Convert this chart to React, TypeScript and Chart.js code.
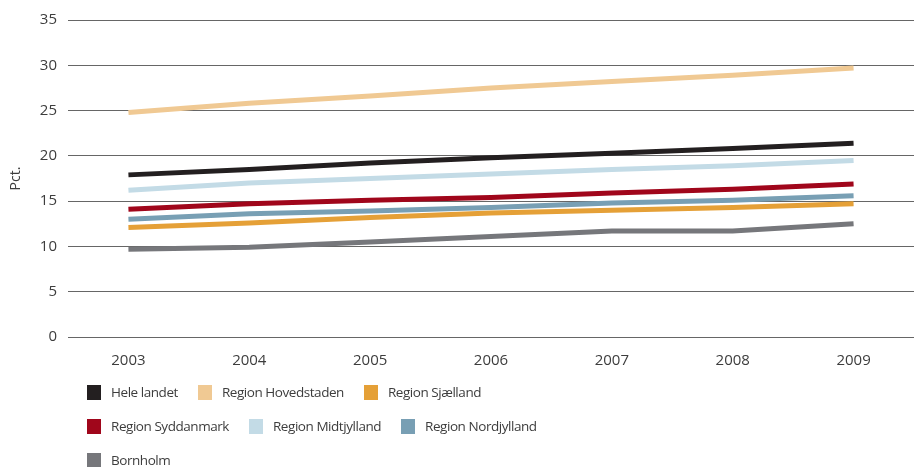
import React, { useEffect, useRef } from "react";
import { Chart, registerables } from "chart.js";

Chart.register(...registerables);

const years = ["2003", "2004", "2005", "2006", "2007", "2008", "2009"];

const heleLandet = [17.9, 18.5, 19.2, 19.8, 20.3, 20.8, 21.4];
const hovedstaden = [24.8, 25.8, 26.6, 27.5, 28.2, 28.9, 29.7];
const sjaelland = [12.1, 12.6, 13.2, 13.7, 14.0, 14.3, 14.7];
const syddanmark = [14.1, 14.7, 15.1, 15.4, 15.9, 16.3, 16.9];
const midtjylland = [16.2, 17.0, 17.5, 18.0, 18.5, 18.9, 19.5];
const nordjylland = [13.0, 13.6, 13.9, 14.3, 14.8, 15.1, 15.6];
const bornholm = [9.7, 9.9, 10.5, 11.1, 11.7, 11.7, 12.5];

const seriesNames = [
  "Hele landet",
  "Region Hovedstaden",
  "Region Sjælland",
  "Region Syddanmark",
  "Region Midtjylland",
  "Region Nordjylland",
  "Bornholm",
];
const seriesValues = [heleLandet, hovedstaden, sjaelland, syddanmark, midtjylland, nordjylland, bornholm];
const seriesColors = ["#231f20", "#f0c993", "#e5a037", "#a0061b", "#c3dbe6", "#789fb4", "#76777b"];

const yTicks = [0, 5, 10, 15, 20, 25, 30, 35];
const yTitle = "Pct.";

const FONT = "'Open Sans', 'Noto Sans', sans-serif";
const TEXT = "#3d3d3d";

export default function App() {
  const ref = useRef<HTMLCanvasElement>(null);

  useEffect(() => {
    document.body.style.margin = "0";
    const chart = new Chart(ref.current!, {
      type: "line",
      data: {
        labels: years,
        datasets: seriesNames.map((name, i) => ({
          label: name,
          data: seriesValues[i],
          borderColor: seriesColors[i],
          backgroundColor: seriesColors[i],
          borderWidth: 5,
          pointRadius: 0,
          tension: 0,
          fill: false,
        })),
      },
      options: {
        animation: false,
        responsive: false,
        layout: { padding: { top: 20, right: 0, left: 0, bottom: 0 } },
        plugins: { legend: { display: false }, tooltip: { enabled: false } },
        scales: {
          x: {
            offset: true,
            grid: { display: false, drawTicks: false },
            border: { display: false },
            ticks: { padding: 15, color: TEXT, font: { family: FONT, size: 15 } },
            afterFit: (s: any) => {
              s.height = 130;
            },
          },
          y: {
            min: 0,
            max: 35,
            afterBuildTicks: (s: any) => {
              s.ticks = yTicks.map((v) => ({ value: v }));
            },
            ticks: { padding: 11, color: TEXT, font: { family: FONT, size: 15 } },
            grid: { color: "#666666", lineWidth: 1, drawTicks: false },
            border: { display: false },
            title: {
              display: true,
              text: yTitle,
              color: TEXT,
              font: { family: FONT, size: 14 },
              padding: { top: 8, bottom: 0 },
            },
            afterFit: (s: any) => {
              s.width = 68;
            },
          },
        },
      },
    });
    return () => chart.destroy();
  }, []);

  const rows = [seriesNames.slice(0, 3), seriesNames.slice(3, 6), seriesNames.slice(6)];

  return (
    <div style={{ position: "absolute", left: 0, top: 0, width: 914, height: 467 }}>
      <canvas ref={ref} width={914} height={467} style={{ display: "block" }} />
      <div
        style={{
          position: "absolute",
          left: 87,
          top: 375,
          fontFamily: FONT,
          fontSize: 13.5,
          letterSpacing: "-0.45px",
          color: TEXT,
        }}
      >
        {rows.map((row, r) => (
          <div key={r} style={{ display: "flex", alignItems: "center", height: 34 }}>
            {row.map((name) => {
              const i = seriesNames.indexOf(name);
              return (
                <div key={name} style={{ display: "flex", alignItems: "center", marginRight: 20 }}>
                  <div style={{ width: 14, height: 15, background: seriesColors[i], marginRight: 10 }} />
                  <span>{name}</span>
                </div>
              );
            })}
          </div>
        ))}
      </div>
    </div>
  );
}
